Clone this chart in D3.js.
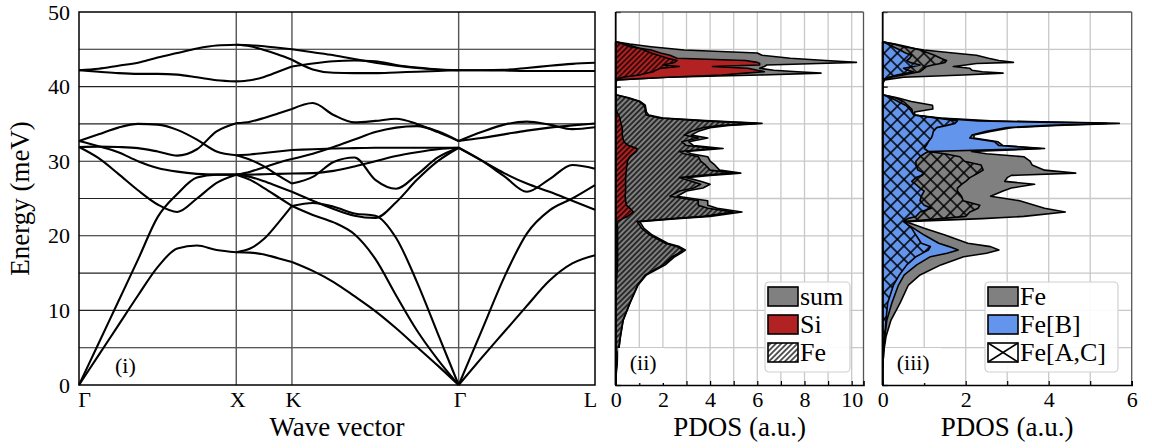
<!DOCTYPE html>
<html>
<head>
<meta charset="utf-8">
<script src="https://cdn.jsdelivr.net/npm/d3@7"></script>
<style>
  body { margin: 0; background: #fff; }
  svg { font-family: "Liberation Serif", "DejaVu Serif", serif; }
</style>
</head>
<body>
<div id="chart"></div>
<script>
// ---- panel (i): phonon dispersion along Γ-X-K-Γ-L ----
const symK = [0, 1, 1.354, 2.414, 3.281];
const symLabels = ["Γ", "X", "K", "Γ", "L"];
const yTicks = [0, 10, 20, 30, 40, 50];

const kGX = [0, 0.125, 0.25, 0.375, 0.5, 0.625, 0.75, 0.875, 1];
const bandsGX = [
  [42.2, 42.4, 42.8, 43.2, 43.9, 44.5, 45.1, 45.5, 45.6],
  [42.2, 42.0, 41.8, 41.7, 41.7, 41.6, 41.25, 40.85, 40.7],
  [32.7, 33.6, 34.5, 35.0, 34.9, 34.2, 32.9, 31.3, 30.8],
  [31.9, 31.95, 31.9, 31.75, 31.3, 30.75, 31.6, 34.0, 35.1],
  [32.7, 32.0, 31.2, 30.0, 29.1, 28.6, 28.3, 28.2, 28.2],
  [31.9, 30.4, 28.3, 26.1, 24.2, 23.2, 25.0, 27.1, 28.2],
  [0, 5.6, 11.2, 16.8, 22.5, 25.6, 27.8, 28.2, 28.2],
  [0, 4.0, 8.0, 12.0, 15.8, 18.3, 18.7, 18.1, 17.8]
];

const kXK = [1, 1.0885, 1.177, 1.2655, 1.354];
const bandsXK = [
  [45.6, 45.55, 45.4, 45.2, 45.0],
  [45.6, 45.4, 44.9, 44.3, 43.6],
  [40.7, 40.85, 41.3, 42.0, 42.7],
  [35.1, 35.3, 35.8, 36.4, 37.0],
  [30.8, 30.9, 31.1, 31.3, 31.5],
  [30.8, 30.2, 29.3, 28.1, 27.0],
  [28.2, 28.6, 29.2, 29.8, 30.3],
  [28.2, 28.2, 28.25, 28.3, 28.35],
  [28.2, 27.9, 27.3, 26.6, 25.9],
  [28.2, 27.5, 26.4, 25.2, 24.0],
  [17.8, 18.3, 19.6, 21.7, 24.0],
  [17.8, 17.75, 17.5, 17.0, 16.5]
];

const kKG = [1.354, 1.4865, 1.619, 1.7515, 1.884, 2.0165, 2.149, 2.2815, 2.414];
const bandsKG = [
  [45.0, 44.6, 44.2, 43.7, 43.2, 42.8, 42.5, 42.3, 42.2],
  [43.6, 42.3, 41.85, 41.8, 41.8, 41.9, 42.0, 42.1, 42.2],
  [42.7, 43.1, 43.4, 43.5, 43.4, 42.9, 42.55, 42.3, 42.2],
  [37.0, 37.8, 36.2, 35.2, 35.4, 35.7, 35.0, 33.9, 32.7],
  [30.3, 31.0, 31.9, 32.9, 33.9, 34.5, 34.7, 34.0, 32.7],
  [31.5, 31.6, 31.7, 31.75, 31.8, 31.8, 31.8, 31.8, 31.8],
  [28.35, 28.4, 28.7, 29.3, 30.0, 30.7, 31.2, 31.6, 31.8],
  [27.0, 27.9, 29.9, 30.5, 27.5, 26.3, 28.2, 30.5, 31.8],
  [25.9, 24.7, 23.6, 22.7, 22.4, 24.5, 27.5, 30.0, 31.8],
  [24.0, 24.4, 23.9, 23.0, 22.7, 19.7, 13.8, 6.9, 0],
  [24.0, 22.8, 21.8, 20.2, 16.9, 12.0, 7.3, 3.4, 0],
  [16.5, 15.3, 13.8, 11.9, 9.9, 7.6, 5.1, 2.6, 0]
];

const kGL = [2.414, 2.5585, 2.703, 2.8475, 2.992, 3.1365, 3.281];
const bandsGL = [
  [42.2, 42.2, 42.15, 42.1, 42.1, 42.1, 42.1],
  [42.2, 42.2, 42.25, 42.5, 42.8, 43.05, 43.2],
  [32.7, 33.9, 34.9, 35.3, 34.9, 34.3, 34.55],
  [32.7, 33.1, 33.6, 34.1, 34.5, 34.8, 35.05],
  [31.8, 30.1, 28.4, 27.0, 25.9, 24.7, 23.5],
  [31.8, 30.1, 28.0, 25.9, 27.6, 29.5, 29.0],
  [0, 7.2, 14.4, 20.3, 23.4, 25.0, 26.8],
  [0, 3.6, 7.1, 10.6, 14.0, 16.3, 17.4]
];

// ---- panels (ii) and (iii): PDOS on a shared energy grid (meV) ----
const energies = [
  0, 2, 4.3, 6.5, 8.7, 11, 13.4, 14.75, 16.1, 17.2,
  17.65, 18.1, 18.55, 19.0, 20.1, 21.0, 21.5, 21.9, 22.3, 22.6,
  23.2, 23.7, 24.1, 24.7, 25.3, 26.0, 26.4, 26.9, 27.3, 27.8,
  28.1, 28.4, 28.8, 29.5, 30.0, 30.6, 31.0, 31.3, 31.7, 32.1,
  32.6, 33.1, 33.5, 34.0, 34.5, 34.8, 35.07, 35.4, 35.8, 36.2,
  36.6, 37.0, 37.5, 38.0, 38.5, 38.9, 39.5, 40.4, 40.9, 41.25,
  41.55, 41.8, 42.0, 42.2, 42.45, 42.7, 42.9, 43.1, 43.25, 43.5,
  43.8, 44.2, 44.5, 44.9, 45.35, 45.7, 46.0
];

const pdosSum = [
  0, 0.03, 0.11, 0.2, 0.32, 0.61, 0.95, 1.3, 2.1, 2.5,
  2.75, 2.95, 2.7, 2.2, 1.55, 1.2, 1.1, 1.0, 2.6, 4.0,
  5.35, 4.3, 3.9, 3.9, 2.6, 3.0, 3.7, 4.0, 3.6, 3.0,
  4.0, 5.3, 4.4, 4.2, 4.0, 3.9, 3.2, 3.0, 4.55, 3.3,
  3.1, 3.9, 3.2, 3.5, 4.0, 4.8, 6.2, 4.0, 2.0, 1.4,
  1.3, 1.28, 1.25, 1.05, 0.55, 0, 0, 0, 0.05, 2.2,
  6.1, 8.7, 7.7, 6.7, 6.1, 6.3, 6.4, 8.6, 10.2, 8.9,
  7.4, 6.2, 6.0, 2.9, 1.5, 0.6, 0
];
const pdosSi = [
  0, 0, 0, 0, 0, 0, 0.02, 0.05, 0.08, 0.08,
  0.08, 0.08, 0.08, 0.08, 0.08, 0.08, 0.07, 0.05, 0.3, 0.5,
  0.75, 0.6, 0.45, 0.42, 0.4, 0.42, 0.42, 0.42, 0.42, 0.42,
  0.43, 0.44, 0.45, 0.48, 0.5, 0.6, 0.75, 0.88, 0.9, 0.55,
  0.35, 0.3, 0.28, 0.28, 0.28, 0.25, 0.22, 0.2, 0.18, 0.12,
  0.05, 0, 0, 0, 0, 0, 0, 0, 0, 2.2,
  4.5, 5.5, 6.3, 6.0, 5.6, 4.1, 6.1, 6.1, 6.0, 5.5,
  2.6, 2.3, 1.9, 1.5, 0.6, 0.3, 0
];
const pdosFe = [
  0, 0.03, 0.11, 0.2, 0.31, 0.6, 0.93, 1.25, 2.0, 2.4,
  2.65, 2.85, 2.6, 2.1, 1.45, 1.1, 1.0, 0.9, 2.4, 3.7,
  5.0, 3.9, 3.5, 3.5, 2.3, 2.7, 3.3, 3.6, 3.2, 2.7,
  3.6, 5.0, 4.0, 3.8, 3.6, 3.5, 2.9, 2.7, 4.2, 3.0,
  2.8, 3.5, 2.9, 3.2, 3.7, 4.5, 6.0, 3.7, 1.85, 1.3,
  1.25, 1.25, 1.2, 1.0, 0.5, 0, 0, 0, 0, 0.3,
  1.0, 1.3, 1.6, 1.7, 1.9, 2.7, 2.0, 2.3, 2.5, 2.6,
  2.2, 1.8, 1.5, 1.2, 0.8, 0.4, 0
];

const feTotal = [
  0, 0, 0.02, 0.08, 0.2, 0.42, 0.62, 0.9, 1.4, 1.95,
  2.5, 2.8, 2.6, 2.05, 1.5, 1.0, 0.75, 0.55, 2.4, 3.4,
  4.4, 3.9, 3.66, 3.3, 2.6, 2.9, 3.1, 3.66, 2.94, 3.0,
  3.1, 4.65, 3.9, 3.6, 3.55, 3.4, 2.5, 2.14, 3.9, 2.9,
  2.78, 2.2, 2.2, 2.6, 3.1, 4.2, 5.7, 2.6, 1.4, 0.77,
  0.77, 1.21, 1.2, 0.69, 0.35, 0, 0, 0, 0.05, 0.5,
  1.94, 2.9, 2.4, 2.15, 2.1, 1.7, 2.0, 2.26, 3.15, 2.8,
  2.55, 2.26, 1.7, 1.0, 0.5, 0.25, 0
];
const feB = [
  0, 0, 0.02, 0.05, 0.1, 0.22, 0.38, 0.52, 0.82, 1.15,
  1.55, 1.82, 1.6, 1.35, 1.0, 0.75, 0.6, 0.5, 0.6, 0.8,
  0.9, 1.17, 1.0, 0.9, 0.93, 1.0, 0.9, 0.8, 0.7, 0.8,
  0.95, 1.0, 0.85, 0.8, 0.8, 0.9, 1.0, 1.1, 3.8, 2.8,
  2.7, 2.1, 2.15, 2.5, 3.0, 4.0, 5.4, 2.3, 1.3, 0.75,
  0.7, 0.65, 0.55, 0.37, 0.2, 0, 0, 0, 0, 0.15,
  0.34, 0.55, 0.74, 0.6, 0.5, 0.75, 0.9, 0.75, 0.65, 0.58,
  0.65, 0.7, 0.55, 0.42, 0.25, 0.12, 0
];
const feAC = [
  0, 0, 0.02, 0.05, 0.08, 0.12, 0.26, 0.4, 0.58, 0.8,
  0.95, 1.1, 1.15, 0.93, 0.8, 0.7, 0.6, 0.53, 1.4, 2.0,
  2.1, 2.3, 2.34, 1.94, 1.9, 1.8, 1.8, 1.9, 2.0, 2.1,
  2.2, 2.3, 2.42, 2.37, 1.97, 1.86, 1.49, 1.1, 1.0, 1.05,
  1.1, 1.17, 1.2, 1.22, 1.3, 1.55, 1.74, 1.8, 1.3, 0.75,
  0.72, 0.7, 0.6, 0.5, 0.3, 0, 0, 0, 0, 0.2,
  0.5, 0.7, 0.9, 0.95, 1.0, 1.06, 1.2, 1.4, 1.5, 1.54,
  1.4, 1.25, 1.1, 0.9, 0.6, 0.3, 0
];

const legendII = ["sum", "Si", "Fe"];
const legendIII = ["Fe", "Fe[B]", "Fe[A,C]"];
const ticksII = [0, 2, 4, 6, 8, 10];
const ticksIII = [0, 2, 4, 6];

// ---- drawing ----
const serif = '"Liberation Serif", "DejaVu Serif", serif';
const svg = d3.select("#chart").append("svg")
  .attr("width", 1152).attr("height", 448)
  .attr("font-family", serif);

const defs = svg.append("defs");
const hs = 3.8;
defs.append("pattern").attr("id", "hatch")
  .attr("patternUnits", "userSpaceOnUse")
  .attr("width", hs).attr("height", hs)
  .attr("patternTransform", "rotate(45)")
  .append("line")
  .attr("x1", hs / 2).attr("y1", 0).attr("x2", hs / 2).attr("y2", hs)
  .attr("stroke", "#000").attr("stroke-width", 1.3);
const cs = 9.4;
const cross = defs.append("pattern").attr("id", "cross")
  .attr("patternUnits", "userSpaceOnUse")
  .attr("width", cs).attr("height", cs)
  .attr("patternTransform", "rotate(45)");
cross.append("line").attr("x1", cs / 2).attr("y1", 0).attr("x2", cs / 2).attr("y2", cs)
  .attr("stroke", "#000").attr("stroke-width", 1.5);
cross.append("line").attr("x1", 0).attr("y1", cs / 2).attr("x2", cs).attr("y2", cs / 2)
  .attr("stroke", "#000").attr("stroke-width", 1.5);

const y = d3.scaleLinear().domain([0, 50]).range([385, 12]);

// panel (i)
const x1 = d3.scaleLinear().domain([0, 3.281]).range([79, 595]);
const p1 = svg.append("g");

p1.selectAll(".hgrid").data(d3.range(5, 50, 5)).join("line")
  .attr("class", "hgrid")
  .attr("x1", x1(0)).attr("x2", x1(3.281))
  .attr("y1", d => y(d)).attr("y2", d => y(d))
  .attr("stroke", "#222").attr("stroke-width", 1.1);

p1.selectAll(".vgrid").data(symK.slice(1, 4)).join("line")
  .attr("class", "vgrid")
  .attr("x1", d => x1(d)).attr("x2", d => x1(d))
  .attr("y1", y(0)).attr("y2", y(50))
  .attr("stroke", "#555").attr("stroke-width", 1.4);

const segments = [[kGX, bandsGX], [kXK, bandsXK], [kKG, bandsKG], [kGL, bandsGL]];
segments.forEach(([k, bands]) => {
  const line = d3.line()
    .x((d, i) => x1(k[i]))
    .y(d => y(d))
    .curve(d3.curveMonotoneX);
  p1.append("g").selectAll("path").data(bands).join("path")
    .attr("d", line)
    .attr("fill", "none")
    .attr("stroke", "#000")
    .attr("stroke-width", 2.1);
});

p1.append("rect")
  .attr("x", x1(0)).attr("y", y(50))
  .attr("width", x1(3.281) - x1(0)).attr("height", y(0) - y(50))
  .attr("fill", "none").attr("stroke", "#000").attr("stroke-width", 1.5);

p1.append("g").attr("transform", `translate(${x1(0)},0)`)
  .call(d3.axisLeft(y).tickValues(yTicks).tickSize(0).tickPadding(9))
  .attr("font-family", serif).attr("font-size", 22)
  .call(g => g.select(".domain").remove())
  .selectAll("text").attr("fill", "#000");

p1.append("g").attr("transform", `translate(0,${y(0)})`)
  .call(d3.axisBottom(x1).tickValues(symK).tickFormat((d, i) => symLabels[i]).tickSize(0).tickPadding(6))
  .attr("font-family", serif).attr("font-size", 22)
  .call(g => g.select(".domain").remove())
  .selectAll("text").attr("fill", "#000")
  .attr("dx", (d, i) => i === 0 ? 5 : (i === symK.length - 1 ? -5 : 1));

p1.append("text").attr("x", 115).attr("y", 373)
  .attr("font-size", 22).text("(i)");

svg.append("text")
  .attr("transform", `translate(29,${(y(0) + y(50)) / 2}) rotate(-90)`)
  .attr("text-anchor", "middle").attr("font-size", 27)
  .text("Energy (meV)");

svg.append("text")
  .attr("x", (x1(0) + x1(3.281)) / 2).attr("y", 436)
  .attr("text-anchor", "middle").attr("font-size", 27)
  .text("Wave vector");

// PDOS panels
function pdosPanel(opt) {
  const x = opt.x;
  const xmax = x.domain()[1];
  const g = svg.append("g");

  g.selectAll(".vg").data(d3.range(1, Math.ceil(xmax))).join("line")
    .attr("x1", d => x(d)).attr("x2", d => x(d))
    .attr("y1", y(0)).attr("y2", y(50))
    .attr("stroke", "#c8c8c8").attr("stroke-width", 1.3);
  g.selectAll(".hg").data(d3.range(5, 50, 5)).join("line")
    .attr("x1", x(0)).attr("x2", x(xmax))
    .attr("y1", d => y(d)).attr("y2", d => y(d))
    .attr("stroke", "#c8c8c8").attr("stroke-width", 1.3);

  g.append("g").attr("transform", `translate(${x(0)},0)`)
    .call(d3.axisLeft(y).tickValues(yTicks).tickSize(-5).tickFormat(""))
    .call(a => a.select(".domain").remove())
    .selectAll("line").attr("stroke", "#000").attr("stroke-width", 1.3);

  const area = d3.area()
    .y((d, i) => y(energies[i]))
    .x0(x(0))
    .x1(d => x(d));

  opt.series.forEach(s => {
    g.append("path").datum(s.values)
      .attr("d", area)
      .attr("fill", s.fill)
      .attr("stroke", "#000")
      .attr("stroke-width", 1.6)
      .attr("stroke-linejoin", "round");
  });

  // frame
  g.append("line").attr("x1", x(0)).attr("x2", x(xmax)).attr("y1", y(50)).attr("y2", y(50))
    .attr("stroke", "#555").attr("stroke-width", 1.3);
  g.append("line").attr("x1", x(xmax)).attr("x2", x(xmax)).attr("y1", y(0)).attr("y2", y(50))
    .attr("stroke", "#555").attr("stroke-width", 1.3);
  g.append("line").attr("x1", x(0)).attr("x2", x(0)).attr("y1", y(0)).attr("y2", y(50))
    .attr("stroke", "#000").attr("stroke-width", 1.8);

  g.append("g").attr("transform", `translate(0,${y(0)})`)
    .call(d3.axisBottom(x).tickValues(d3.range(0, Math.floor(xmax) + 1))
      .tickSize(-4).tickPadding(6)
      .tickFormat(d => opt.ticks.includes(d) ? d : ""))
    .attr("font-family", serif).attr("font-size", 22)
    .call(a => a.select(".domain").attr("stroke", "#000").attr("stroke-width", 1.6))
    .call(a => a.selectAll("line").attr("stroke", "#000").attr("stroke-width", 1.2))
    .selectAll("text").attr("fill", "#000");

  // panel tag
  g.append("rect").attr("x", x(0) + 2.5).attr("y", 348)
    .attr("width", opt.tagW).attr("height", 35).attr("fill", "#fff");
  g.append("text").attr("x", x(0) + 14).attr("y", 370)
    .attr("font-size", 22).text(opt.tag);

  // legend
  const lb = opt.legend;
  const lg = g.append("g").attr("transform", `translate(${lb.x},${lb.y})`);
  lg.append("rect").attr("width", lb.w).attr("height", 90).attr("rx", 4)
    .attr("fill", "#fff").attr("fill-opacity", 0.9)
    .attr("stroke", "#d0d0d0").attr("stroke-width", 1.2);
  opt.legendNames.forEach((name, i) => {
    const s = opt.series[i];
    const ey = 5 + i * 28;
    lg.append("rect").attr("x", 3).attr("y", ey).attr("width", 30).attr("height", 19)
      .attr("fill", "#fff");
    if (s.fill === "url(#cross)") {
      lg.append("line").attr("x1", 3).attr("y1", ey).attr("x2", 33).attr("y2", ey + 19)
        .attr("stroke", "#000").attr("stroke-width", 1.5);
      lg.append("line").attr("x1", 33).attr("y1", ey).attr("x2", 3).attr("y2", ey + 19)
        .attr("stroke", "#000").attr("stroke-width", 1.5);
      lg.append("rect").attr("x", 3).attr("y", ey).attr("width", 30).attr("height", 19)
        .attr("fill", "none").attr("stroke", "#000").attr("stroke-width", 1.6);
    } else {
      lg.append("rect").attr("x", 3).attr("y", ey).attr("width", 30).attr("height", 19)
        .attr("fill", s.fill).attr("stroke", "#000").attr("stroke-width", 1.6);
    }
    lg.append("text").attr("x", 35).attr("y", ey + 18)
      .attr("font-size", 26).text(name);
  });

  svg.append("text")
    .attr("x", (x(0) + x(xmax)) / 2).attr("y", 436)
    .attr("text-anchor", "middle").attr("font-size", 27)
    .text("PDOS (a.u.)");
}

pdosPanel({
  x: d3.scaleLinear().domain([0, 10.5]).range([615.7, 863.5]),
  series: [
    { values: pdosSum, fill: "#808080" },
    { values: pdosSi, fill: "#b22222" },
    { values: pdosFe, fill: "url(#hatch)" }
  ],
  legendNames: legendII,
  ticks: ticksII,
  tag: "(ii)",
  tagW: 46,
  legend: { x: 765, y: 282, w: 85 }
});

pdosPanel({
  x: d3.scaleLinear().domain([0, 6]).range([882.7, 1131.7]),
  series: [
    { values: feTotal, fill: "#808080" },
    { values: feB, fill: "#6495ed" },
    { values: feAC, fill: "url(#cross)" }
  ],
  legendNames: legendIII,
  ticks: ticksIII,
  tag: "(iii)",
  tagW: 56,
  legend: { x: 985, y: 282, w: 133 }
});
</script>
</body>
</html>
